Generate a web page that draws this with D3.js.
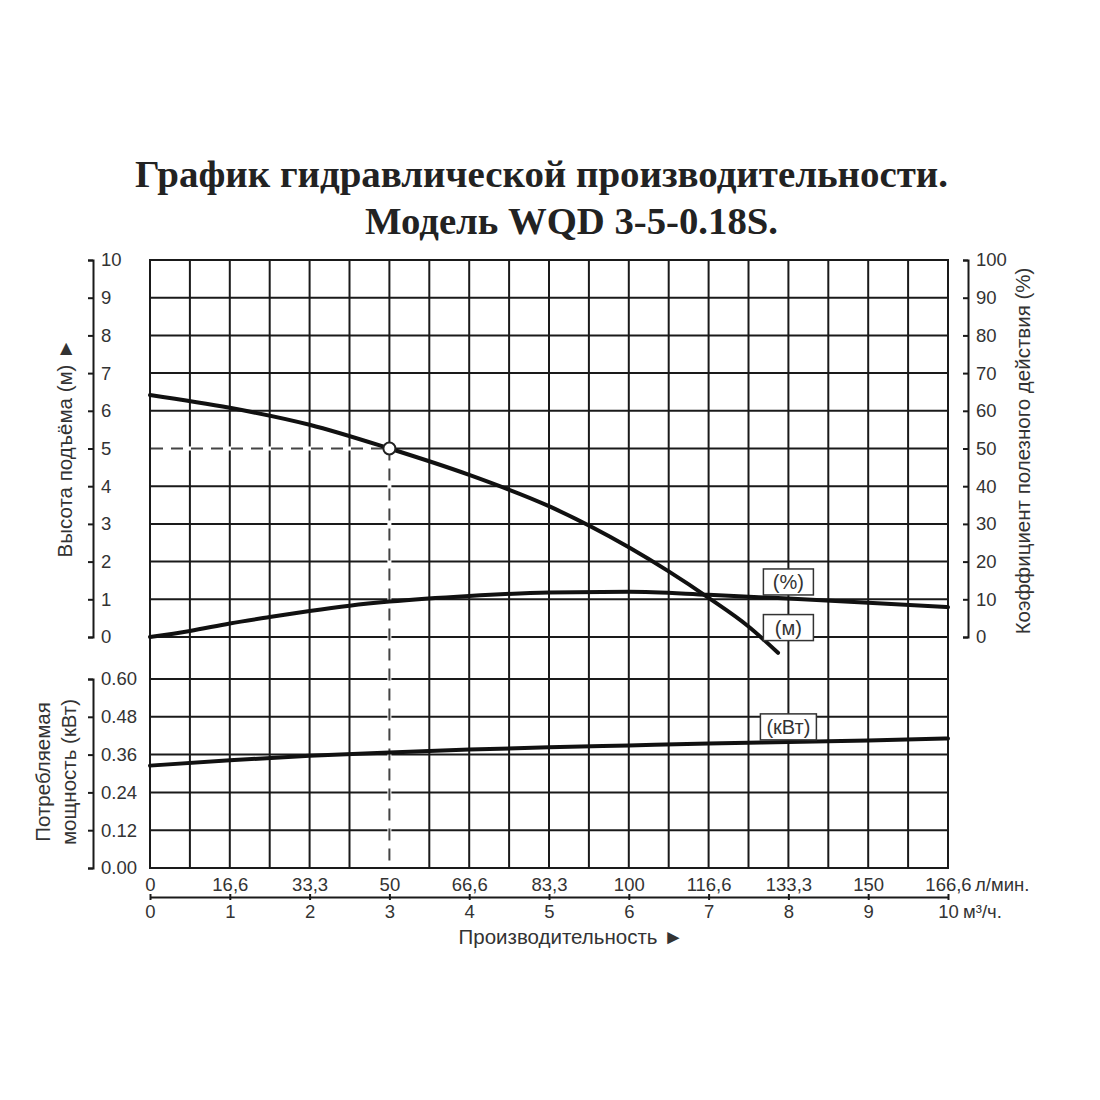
<!DOCTYPE html>
<html><head><meta charset="utf-8">
<script src="https://cdn.jsdelivr.net/npm/d3@7"></script>
<style>body{margin:0;background:#fff}svg{display:block}</style>
</head><body>
<script>
// ---- data ----
const flowTicks = [0,1,2,3,4,5,6,7,8,9,10];              // м³/ч
const lpmLabels = ["0","16,6","33,3","50","66,6","83,3","100","116,6","133,3","150","166,6"]; // л/мин
const headTicks = [0,1,2,3,4,5,6,7,8,9,10];
const effTicks  = [0,10,20,30,40,50,60,70,80,90,100];
const powerTicks = [0,0.12,0.24,0.36,0.48,0.60];

const headQ = [0,1,2,3,4,5,6,6.5,7,7.5,7.87];
const headH = [6.42,6.08,5.63,5.0,4.3,3.47,2.38,1.74,1.04,0.28,-0.42];

const effQ = [0,0.5,1,1.5,2,2.5,3,4,5,6,7,8,9,10];
const effV = [0,1.6,3.6,5.3,6.9,8.3,9.4,10.9,11.8,12.0,11.2,10.2,9.1,7.9];

const powQ = [0,1,2,3,4,5,6,7,8,9,10];
const powV = [0.325,0.342,0.356,0.367,0.376,0.383,0.389,0.395,0.400,0.405,0.411];

const dutyQ = 3, dutyH = 5;

// ---- drawing ----
const W = 1100, H = 1100;
const svg = d3.select("body").append("svg").attr("width", W).attr("height", H);
const SANS = "'Liberation Sans', Arial, Helvetica, sans-serif";
const SERIF = "'Liberation Serif', 'Times New Roman', serif";
const INK = "#1a1a1a", TXT = "#333";
const TICKFS = 18.5, TITLEFS = 20.5;

const x  = d3.scaleLinear().domain([0,10]).range([150,948]);
const yH = d3.scaleLinear().domain([0,10]).range([637,260]);
const yE = d3.scaleLinear().domain([0,100]).range([637,260]);
const yP = d3.scaleLinear().domain([0,0.6]).range([868,679]);

// title
svg.append("text").attr("x",135).attr("y",187).attr("textLength",813).attr("lengthAdjust","spacingAndGlyphs")
  .attr("font-family",SERIF).attr("font-weight","bold").attr("font-size",38).attr("fill","#222")
  .text("График гидравлической производительности.");
svg.append("text").attr("x",365).attr("y",234).attr("textLength",413).attr("lengthAdjust","spacingAndGlyphs")
  .attr("font-family",SERIF).attr("font-weight","bold").attr("font-size",38).attr("fill","#222")
  .text("Модель WQD 3-5-0.18S.");

// grid
const grid = svg.append("g").attr("stroke",INK).attr("stroke-width",2);
grid.selectAll("line.v").data(d3.range(0,10.001,0.5)).join("line").attr("class","v")
  .attr("x1",d=>x(d)).attr("x2",d=>x(d)).attr("y1",yH(10)).attr("y2",yP(0));
grid.selectAll("line.h").data(headTicks).join("line").attr("class","h")
  .attr("x1",x(0)-1).attr("x2",x(10)+1).attr("y1",d=>yH(d)).attr("y2",d=>yH(d));
grid.selectAll("line.p").data(powerTicks).join("line").attr("class","p")
  .attr("x1",x(0)-1).attr("x2",x(10)+1).attr("y1",d=>yP(d)).attr("y2",d=>yP(d));

// dashed duty lines (break the grid lines beneath)
const dash = svg.append("g");
[[x(0)+1,yH(dutyH),x(dutyQ),yH(dutyH)],[x(dutyQ),yH(dutyH),x(dutyQ),yP(0)-1]].forEach(s=>{
  dash.append("line").attr("x1",s[0]).attr("y1",s[1]).attr("x2",s[2]).attr("y2",s[3])
    .attr("stroke","#fff").attr("stroke-width",4);
  dash.append("line").attr("x1",s[0]).attr("y1",s[1]).attr("x2",s[2]).attr("y2",s[3])
    .attr("stroke","#444").attr("stroke-width",2).attr("stroke-dasharray","12,8");
});

// curves
function drawCurve(qs, vs, ys){
  const line = d3.line().x((d,i)=>x(qs[i])).y(d=>ys(d)).curve(d3.curveMonotoneX);
  svg.append("path").attr("d", line(vs)).attr("fill","none").attr("stroke","#111")
    .attr("stroke-width",4).attr("stroke-linecap","round");
}
drawCurve(effQ, effV, yE);
drawCurve(headQ, headH, yH);
drawCurve(powQ, powV, yP);

// duty point
svg.append("circle").attr("cx",x(dutyQ)).attr("cy",yH(dutyH)).attr("r",6)
  .attr("fill","#fff").attr("stroke","#222").attr("stroke-width",2);

// curve labels
function tag(txt, cx, cy, w){
  const g = svg.append("g");
  g.append("rect").attr("x",cx-w/2).attr("y",cy-13).attr("width",w).attr("height",26)
    .attr("fill","#fff").attr("stroke","#333").attr("stroke-width",1.5);
  g.append("text").attr("x",cx).attr("y",cy).attr("dy","0.35em").attr("text-anchor","middle")
    .attr("font-family",SANS).attr("font-size",20).attr("fill",TXT).text(txt);
}
tag("(%)", x(8), yH(1.46), 50);
tag("(м)", x(8), yH(0.25), 50);
tag("(кВт)", x(8), yP(0.448), 56);

// axes
function styleAxis(g, anchorStart){
  g.attr("font-family",SANS).attr("font-size",TICKFS);
  g.selectAll("path.domain").attr("stroke",INK).attr("stroke-width",2);
  g.selectAll(".tick line").attr("stroke",INK).attr("stroke-width",2);
  g.selectAll(".tick text").attr("fill",TXT);
  if(anchorStart){ g.attr("text-anchor","start"); g.selectAll(".tick text").attr("x",8); }
}
svg.append("g").attr("transform","translate(93,0)")
  .call(d3.axisLeft(yH).tickValues(headTicks).tickSize(5).tickSizeOuter(5).tickFormat(d3.format("d")))
  .call(g=>styleAxis(g,true));
svg.append("g").attr("transform","translate(93,0)")
  .call(d3.axisLeft(yP).tickValues(powerTicks).tickSize(5).tickSizeOuter(5).tickFormat(d3.format(".2f")))
  .call(g=>styleAxis(g,true));
svg.append("g").attr("transform","translate(968,0)")
  .call(d3.axisLeft(yE).tickValues(effTicks).tickSize(5).tickSizeOuter(5).tickFormat(d3.format("d")))
  .call(g=>styleAxis(g,true));

// bottom axis
const bx = svg.append("g").attr("transform","translate(0,897)")
  .call(d3.axisBottom(x).tickValues(flowTicks).tickSize(3).tickSizeOuter(0).tickPadding(5).tickFormat(d3.format("d")))
  .call(g=>styleAxis(g,false));
bx.selectAll(".tick line").attr("y1",-3).attr("y2",3);
bx.selectAll(".tick").append("text").attr("y",-6).attr("fill",TXT).attr("text-anchor","middle")
  .text((d,i)=>lpmLabels[i]);
svg.append("text").attr("x",x(10)+27).attr("y",891).attr("font-family",SANS).attr("font-size",TICKFS)
  .attr("fill",TXT).text("л/мин.");
svg.append("text").attr("x",x(10)+15).attr("y",918).attr("font-family",SANS).attr("font-size",TICKFS)
  .attr("fill",TXT).text("м³/ч.");

// axis titles
svg.append("text").attr("x",571).attr("y",944).attr("text-anchor","middle")
  .attr("font-family",SANS).attr("font-size",TITLEFS).attr("fill",TXT).text("Производительность ►");
svg.append("text").attr("transform","translate(72,448) rotate(-90)").attr("text-anchor","middle")
  .attr("font-family",SANS).attr("font-size",TITLEFS).attr("fill",TXT).text("Высота подъёма (м) ►");
svg.append("text").attr("transform","translate(50,772) rotate(-90)").attr("text-anchor","middle")
  .attr("font-family",SANS).attr("font-size",TITLEFS).attr("fill",TXT).text("Потребляемая");
svg.append("text").attr("transform","translate(76,772) rotate(-90)").attr("text-anchor","middle")
  .attr("font-family",SANS).attr("font-size",TITLEFS).attr("fill",TXT).text("мощность (кВт)");
svg.append("text").attr("transform","translate(1030,451) rotate(-90)").attr("text-anchor","middle")
  .attr("font-family",SANS).attr("font-size",TITLEFS).attr("fill",TXT).text("Коэффициент полезного действия (%)");
</script>
</body></html>
